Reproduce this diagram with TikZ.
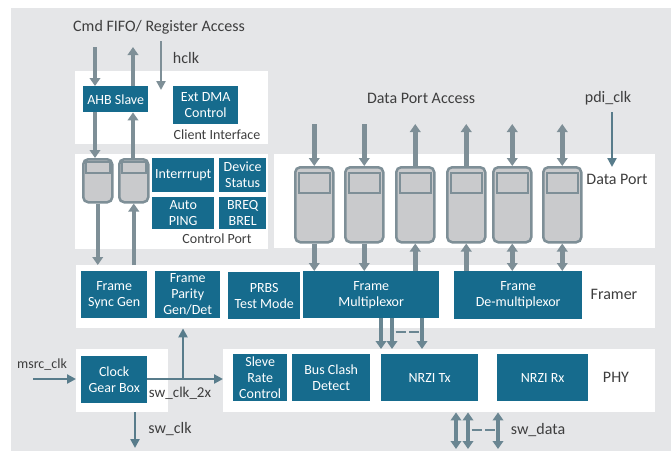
\documentclass[tikz,border=0pt]{standalone}
\usepackage{fontspec}
\setmainfont{Carlito}
\usetikzlibrary{arrows.meta}
\definecolor{bggray}{HTML}{E5E6E8}
\definecolor{blkblue}{HTML}{166B8D}
\definecolor{busgray}{HTML}{7E8F97}
\definecolor{phybus}{HTML}{6A8692}
\definecolor{clkblue}{HTML}{587C8B}
\definecolor{fifofill}{HTML}{C9CACC}
\definecolor{txtgray}{HTML}{3E3E3E}
\begin{document}
\begin{tikzpicture}[x=1pt,y=-1pt,
  panel/.style={fill=white,draw=none,anchor=north west,inner sep=0pt},
  blk/.style={fill=blkblue,text=white,anchor=north west,inner sep=0pt,align=center,
    font=\fontsize{14pt}{16pt}\selectfont},
  lbl/.style={text=txtgray,inner sep=0pt,font=\fontsize{16pt}{18pt}\selectfont},
  slbl/.style={text=txtgray,inner sep=0pt,font=\fontsize{14pt}{16pt}\selectfont},
  fifo/.style={fill=fifofill,draw=busgray,line width=2.5pt,rounded corners=5pt,anchor=north west,inner sep=0pt},
  fifoin/.style={fill=fifofill,draw=busgray,line width=2pt},
  bus/.style={draw=busgray,line width=4.5pt,-{Triangle[width=10.5pt,length=8pt]}},
  bibus/.style={draw=busgray,line width=4.5pt,{Triangle[width=10.5pt,length=8pt]}-{Triangle[width=10.5pt,length=8pt]}},
  pbus/.style={bus,draw=phybus,line width=4pt},
  pbibus/.style={bibus,draw=phybus,line width=4pt},
  clk/.style={draw=clkblue,line width=2.5pt,-{Triangle[width=9pt,length=9pt]}},
  hclkarr/.style={draw=busgray,line width=2.5pt,-{Triangle[width=9pt,length=9pt]}},
  dashbus/.style={draw=phybus,line width=2.5pt,dash pattern=on 10pt off 3.5pt}
]
\useasboundingbox (0,0) rectangle (671,451);
\fill[bggray] (11,8) rectangle (671,451);

% panels
\node[panel,minimum width=193pt,minimum height=73pt] (clientP) at (75,71) {};
\node[panel,minimum width=193pt,minimum height=95pt] (ctrlP) at (75,154) {};
\node[panel,minimum width=381pt,minimum height=94pt] (dataP) at (274,154) {};
\node[panel,minimum width=579pt,minimum height=63pt] (framerP) at (76,265) {};
\node[panel,minimum width=92pt,minimum height=63pt] (cgbP) at (76,349) {};
\node[panel,minimum width=432pt,minimum height=63pt] (phyP) at (223,349) {};

% client interface
\node[blk,minimum width=65pt,minimum height=26pt] (ahb) at (83,86) {AHB Slave};
\node[blk,minimum width=65pt,minimum height=38pt] (dma) at (173,86) {Ext DMA\\Control};
\node[slbl] (clientL) at (217,135) {Client Interface};

% control port
\node[fifo,minimum width=29pt,minimum height=43pt] (f1) at (82,158) {};
\node[fifo,minimum width=29pt,minimum height=43pt] (f2) at (118,158) {};
\foreach \f in {f1,f2}
  \draw[fifoin] ([xshift=3.5pt,yshift=-3.5pt]\f.north west) rectangle ([xshift=-3.5pt,yshift=-15pt]\f.north east);
\node[blk,minimum width=62pt,minimum height=34pt] (intr) at (152,158) {Interrrupt};
\node[blk,minimum width=47pt,minimum height=34pt] (devst) at (219,158) {Device\\Status};
\node[blk,minimum width=62pt,minimum height=32pt] (ping) at (152,197) {Auto\\PING};
\node[blk,minimum width=47pt,minimum height=32pt] (breq) at (219,197) {BREQ\\BREL};
\node[slbl] (ctrlL) at (217,239) {Control Port};

% data port
\foreach \n/\x in {1/294,2/344,3/395,4/446,5/492,6/542}{
  \node[fifo,minimum width=38pt,minimum height=75pt] (d\n) at (\x,166) {};
  \draw[fifoin] ([xshift=4.5pt,yshift=-7pt]d\n.north west) rectangle ([xshift=-4.5pt,yshift=-27pt]d\n.north east);
}
\node[lbl] (dataL) at (617,179) {Data Port};
\node[lbl] (dpaL) at (421,98) {Data Port Access};
\node[lbl] (pdiL) at (608,98) {pdi\_clk};

% framer
\node[blk,minimum width=66pt,minimum height=47pt] (fsync) at (81,271) {Frame\\Sync Gen};
\node[blk,minimum width=65pt,minimum height=47pt] (fpar) at (155,271) {Frame\\Parity\\Gen/Det};
\node[blk,minimum width=72pt,minimum height=47pt] (prbs) at (228,272) {PRBS\\Test Mode};
\node[blk,minimum width=136pt,minimum height=47pt] (fmux) at (303,271) {Frame\\Multiplexor};
\node[blk,minimum width=128pt,minimum height=48pt] (fdemux) at (454,271) {Frame\\De-multiplexor};
\node[lbl] (framerL) at (614,294) {Framer};

% phy
\node[blk,minimum width=66pt,minimum height=47pt] (cgb) at (81,356) {Clock\\Gear Box};
\node[blk,minimum width=54pt,minimum height=47pt] (sleve) at (233,354) {Sleve\\Rate\\Control};
\node[blk,minimum width=78pt,minimum height=47pt] (bcd) at (292,354) {Bus Clash\\Detect};
\node[blk,minimum width=97pt,minimum height=47pt] (nrzitx) at (381,354) {NRZI Tx};
\node[blk,minimum width=91pt,minimum height=47pt] (nrzirx) at (497,354) {NRZI Rx};
\node[lbl] (phyL) at (616,377) {PHY};

% top labels
\node[lbl] (cmdL) at (159,27) {Cmd FIFO/ Register Access};
\node[lbl] (hclkL) at (186,58) {hclk};

% control-side arrows
\coordinate (cin) at (95,47);
\coordinate (cout) at (133,47);
\coordinate (hclkS) at (161,41);
\coordinate (hclkE) at (161,90);
\draw[bus] (cin) -- (cin |- ahb.north);
\draw[bus] (cout |- ahb.north) -- (cout);
\draw[hclkarr] (hclkS) -- (hclkE);
\draw[bus] (cin |- ahb.south) -- (cin |- f1.north);
\draw[bus] (cout |- f2.north) -- (cout |- ahb.south);
\draw[bus] (f1.south) -- (f1.south |- framerP.north);
\draw[bus] (f2.south |- framerP.north) -- (f2.south);

% data-side arrows
\foreach \n in {1,...,6} \coordinate (t\n) at ([yshift=42pt]d\n.north);
\draw[bus] (t1) -- (d1.north);
\draw[bus] (t2) -- (d2.north);
\draw[bus] (d3.north) -- (t3);
\draw[bus] (d4.north) -- (t4);
\draw[bibus] (t5) -- (d5.north);
\draw[bibus] (t6) -- (d6.north);
\draw[bus] (d1.south) -- (d1.south |- fmux.north);
\draw[bus] (d2.south) -- (d2.south |- fmux.north);
\draw[bus] (d3.south |- fmux.north) -- (d3.south);
\draw[bus] (d4.south |- fdemux.north) -- (d4.south);
\draw[bibus] (d5.south) -- (d5.south |- fdemux.north);
\draw[bibus] (d6.south) -- (d6.south |- fdemux.north);
\coordinate (pdiS) at (612,112);
\coordinate (pdiE) at (612,167);
\draw[clk] (pdiS) -- (pdiE);

% framer -> phy
\coordinate (m1) at (381,318);
\coordinate (m2) at (392,318);
\coordinate (m3) at (422,318);
\draw[pbus] (m1) -- (m1 |- phyP.north);
\draw[pbus] (m2) -- (m2 |- phyP.north);
\draw[pbus] (m3) -- (m3 |- phyP.north);
\coordinate (dA) at (395.5,332);
\coordinate (dB) at (420,332);
\draw[dashbus] (dA) -- (dB);

% sw_data
\coordinate (s1) at (456,449);
\coordinate (s2) at (468,449);
\coordinate (s3) at (498,449);
\draw[pbibus] (s1 |- phyP.south) -- (s1);
\draw[pbibus] (s2 |- phyP.south) -- (s2);
\draw[pbibus] (s3 |- phyP.south) -- (s3);
\coordinate (eA) at (471.5,430);
\coordinate (eB) at (496,430);
\draw[dashbus] (eA) -- (eB);
\node[lbl] (swdL) at (538,430) {sw\_data};

% clocks
\coordinate (msrcS) at (33,379);
\coordinate (j2x) at (183,379);
\coordinate (swclkS) at (135,412);
\coordinate (swclkE) at (135,448);
\draw[clk] (msrcS) -- (msrcS -| cgbP.west);
\draw[clk] (cgb.east |- j2x) -- (j2x -| phyP.west);
\draw[clk] (j2x) -- (j2x |- framerP.south);
\draw[clk] (swclkS) -- (swclkE);
\node[slbl] (msrcL) at (42,365) {msrc\_clk};
\node[lbl,font=\fontsize{15pt}{17pt}\selectfont] (sw2xL) at (180,393) {sw\_clk\_2x};
\node[lbl] (swclkL) at (170,429) {sw\_clk};
\end{tikzpicture}
\end{document}
